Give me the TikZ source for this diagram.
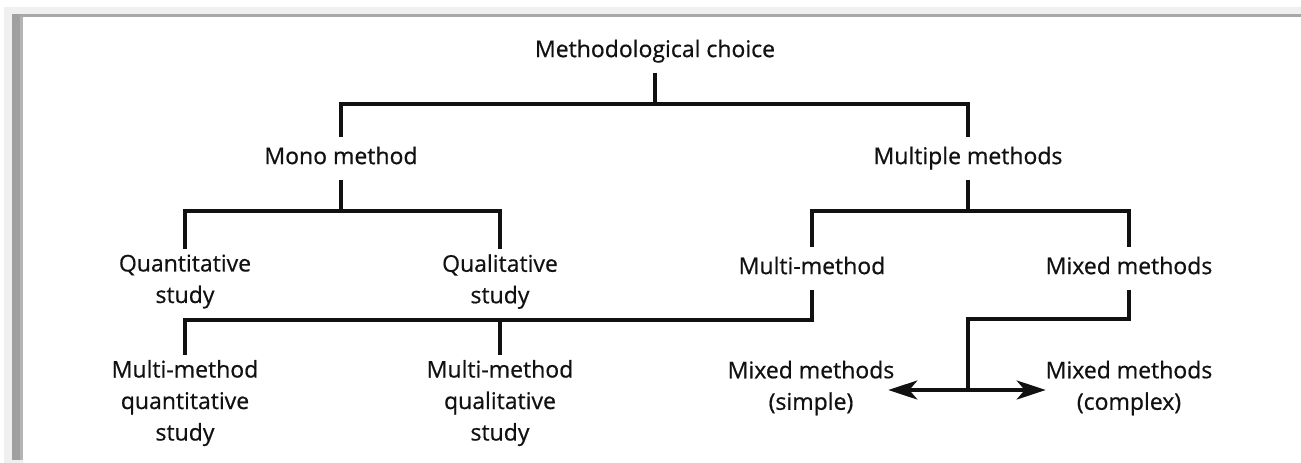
\documentclass[tikz,border=0pt]{standalone}
\usepackage{fontspec}
\setmainfont{Open Sans}[BoldFont={Open Sans},BoldFeatures={FakeBold=0.6}]
\usetikzlibrary{arrows.meta}
\definecolor{bgband}{HTML}{F0F0F0}
\definecolor{barA}{HTML}{A0A0A0}
\definecolor{barB}{HTML}{B4B4B4}
\definecolor{lineA}{HTML}{A8A8A8}
\definecolor{ink}{HTML}{111111}
\begin{document}
\begin{tikzpicture}[x=1pt,y=-1pt,
  lbl/.style={inner sep=0pt, outer sep=0pt, align=center, text=ink,
    font=\fontsize{23}{31.5}\selectfont\bfseries,
    execute at begin node=\strut, execute at end node=\strut},
  ln/.style={line width=3.6pt, draw=ink},
  arr/.style={ln, -{Stealth[length=29pt,width=19pt,inset=8pt]}}]
\useasboundingbox (0,0) rectangle (1301,463);
% frame
\fill[white] (0,0) rectangle (1301,463);
\fill[bgband] (4,7) rectangle (1301,14);
\fill[bgband] (4,7) rectangle (12,463);
\fill[lineA] (12,14) rectangle (1301,16.5);
\fill[barA] (12,14) rectangle (20,460);
\fill[barB] (20,16.5) rectangle (23,460);
\fill[bgband] (12,460) rectangle (23,463);

% nodes
\node[lbl] (top) at (655,50.8) {Methodological choice};
\node[lbl] (mono) at (341,157.8) {Mono method};
\node[lbl] (multi) at (968,157.8) {Multiple methods};
\node[lbl] (quant) at (185,283.5) {Quantitative\\study};
\node[lbl] (qual) at (500,283.5) {Qualitative\\study};
\node[lbl] (mm) at (812,267.8) {Multi-method};
\node[lbl] (mixed) at (1129,267.8) {Mixed methods};
\node[lbl] (mmquant) at (185,405) {Multi-method\\quantitative\\study};
\node[lbl] (mmqual) at (500,405) {Multi-method\\qualitative\\study};
\node[lbl] (simple) at (811,390) {Mixed methods\\(simple)};
\node[lbl] (complex) at (1129,390) {Mixed methods\\(complex)};

% bus levels
\coordinate (L1) at (0,104);
\coordinate (L2) at (0,211);
\coordinate (L3) at (0,320);
\coordinate (L4) at (0,319);
\coordinate (hub) at (multi |- simple);

% connectors
\draw[ln] ([yshift=-6pt]top.south) -- (top |- L1);
\draw[ln] ([yshift=5.5pt]mono.north) -- (mono |- L1) -- (multi |- L1) -- ([yshift=5.5pt]multi.north);

\draw[ln] ([yshift=-6pt]mono.south) -- (mono |- L2);
\draw[ln] ([yshift=5.5pt]quant.north) -- (quant |- L2) -- (qual |- L2) -- ([yshift=5.5pt]qual.north);

\draw[ln] ([yshift=-6pt]multi.south) -- (multi |- L2);
\draw[ln] ([yshift=5.5pt]mm.north) -- (mm |- L2) -- (mixed |- L2) -- ([yshift=5.5pt]mixed.north);

\draw[ln] ([yshift=-6pt]mm.south) -- (mm |- L3) -- (mmquant |- L3) -- ([yshift=5.5pt]mmquant.north);
\draw[ln] (mmqual |- L3) -- ([yshift=5.5pt]mmqual.north);

\draw[ln] ([yshift=-6pt]mixed.south) -- (mixed |- L4) -- (multi |- L4) -- (hub);
\draw[arr] (hub) -- ([xshift=-6pt]simple.east);
\draw[arr] (hub) -- (complex.west);
\end{tikzpicture}
\end{document}
